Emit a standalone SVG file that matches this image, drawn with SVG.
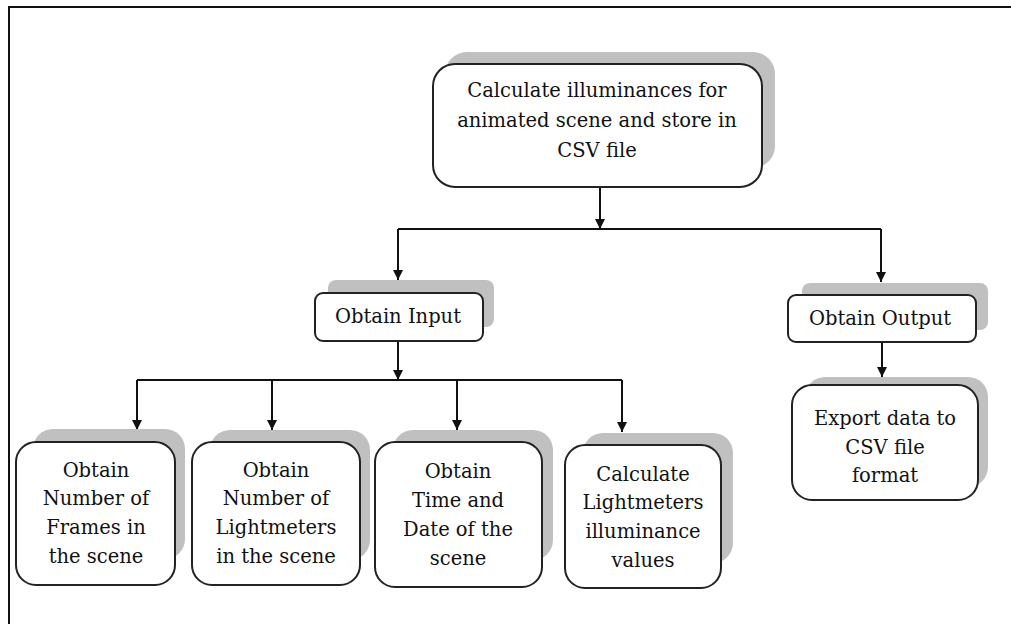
<svg xmlns="http://www.w3.org/2000/svg" width="1011" height="624" viewBox="0 0 1011 624">
<defs>
<style>
.sh{fill:#c0c0c0;stroke:none}
.bx{fill:#fff;stroke:#222;stroke-width:2}
.t{font-family:"DejaVu Serif","Liberation Serif",serif;font-size:19.5px;fill:#111;text-anchor:middle}
.ln{stroke:#111;stroke-width:2;fill:none}
</style>
<marker id="ah" viewBox="0 0 10 10" refX="10" refY="5" markerWidth="10" markerHeight="10" markerUnits="userSpaceOnUse" orient="auto">
<path d="M0,0 L10,5 L0,10 Z" fill="#111"/>
</marker>
</defs>
<rect width="1011" height="624" fill="#fff"/>
<path d="M9,624 V7 H1011" fill="none" stroke="#111" stroke-width="2"/>

<g id="connectors">
<line class="ln" x1="600" y1="187" x2="600" y2="229" marker-end="url(#ah)"/>
<line class="ln" x1="398" y1="229" x2="881" y2="229"/>
<line class="ln" x1="398" y1="229" x2="398" y2="280" marker-end="url(#ah)"/>
<line class="ln" x1="881" y1="229" x2="881" y2="282" marker-end="url(#ah)"/>
<line class="ln" x1="398" y1="341" x2="398" y2="380" marker-end="url(#ah)"/>
<line class="ln" x1="137" y1="380" x2="622" y2="380"/>
<line class="ln" x1="137" y1="380" x2="137" y2="430" marker-end="url(#ah)"/>
<line class="ln" x1="272" y1="380" x2="272" y2="430" marker-end="url(#ah)"/>
<line class="ln" x1="457" y1="380" x2="457" y2="430" marker-end="url(#ah)"/>
<line class="ln" x1="622" y1="380" x2="622" y2="432" marker-end="url(#ah)"/>
<line class="ln" x1="882" y1="342" x2="882" y2="377" marker-end="url(#ah)"/>
</g>

<g id="n-top">
<rect class="sh" x="445" y="52" width="330" height="116" rx="22"/>
<rect class="bx" x="433" y="64" width="329" height="123" rx="22"/>
<text class="t" x="597" y="97">Calculate illuminances for</text>
<text class="t" x="597" y="127">animated scene and store in</text>
<text class="t" x="597" y="157">CSV file</text>
</g>

<g id="n-input">
<rect class="sh" x="328" y="280" width="166" height="47" rx="8"/>
<rect class="bx" x="315" y="293" width="168" height="48" rx="8"/>
<text class="t" x="398" y="323">Obtain Input</text>
</g>

<g id="n-output">
<rect class="sh" x="802" y="283" width="186" height="47" rx="8"/>
<rect class="bx" x="788" y="295" width="188" height="47" rx="8"/>
<text class="t" x="880" y="325">Obtain Output</text>
</g>

<g id="n-export">
<rect class="sh" x="805" y="377" width="183" height="110" rx="20"/>
<rect class="bx" x="792" y="385" width="186" height="115" rx="20"/>
<text class="t" x="885" y="425">Export data to</text>
<text class="t" x="885" y="454">CSV file</text>
<text class="t" x="885" y="482">format</text>
</g>

<g id="n-frames">
<rect class="sh" x="33" y="429" width="152" height="130" rx="20"/>
<rect class="bx" x="16" y="442" width="159" height="143" rx="20"/>
<text class="t" x="96" y="477">Obtain</text>
<text class="t" x="96" y="505">Number of</text>
<text class="t" x="96" y="534">Frames in</text>
<text class="t" x="96" y="563">the scene</text>
</g>

<g id="n-lightmeters">
<rect class="sh" x="210" y="430" width="160" height="130" rx="20"/>
<rect class="bx" x="192" y="442" width="168" height="143" rx="20"/>
<text class="t" x="276" y="477">Obtain</text>
<text class="t" x="276" y="505">Number of</text>
<text class="t" x="276" y="534">Lightmeters</text>
<text class="t" x="276" y="563">in the scene</text>
</g>

<g id="n-time">
<rect class="sh" x="393" y="430" width="160" height="130" rx="20"/>
<rect class="bx" x="375" y="442" width="167" height="145" rx="20"/>
<text class="t" x="458" y="478">Obtain</text>
<text class="t" x="458" y="507">Time and</text>
<text class="t" x="458" y="536">Date of the</text>
<text class="t" x="458" y="565">scene</text>
</g>

<g id="n-calc">
<rect class="sh" x="583" y="433" width="150" height="130" rx="20"/>
<rect class="bx" x="565" y="445" width="156" height="143" rx="20"/>
<text class="t" x="643" y="481">Calculate</text>
<text class="t" x="643" y="509">Lightmeters</text>
<text class="t" x="643" y="538">illuminance</text>
<text class="t" x="643" y="567">values</text>
</g>
</svg>
